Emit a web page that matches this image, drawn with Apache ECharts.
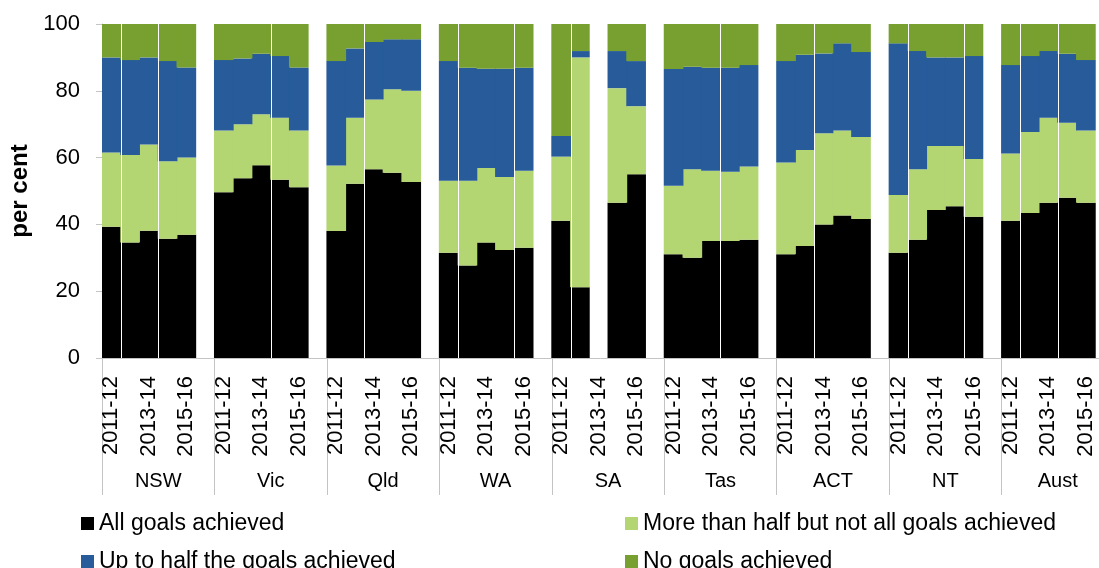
<!DOCTYPE html>
<html>
<head>
<meta charset="utf-8">
<title>Goals achieved</title>
<script src="https://cdn.jsdelivr.net/npm/echarts@6/dist/echarts.min.js"></script>
<style>
html, body { margin: 0; padding: 0; background: #fff; }
#chart { width: 1099px; height: 568px; }
</style>
</head>
<body>
<div id="chart"></div>
<script>
// regions and years, 5 years per region
var regions = ['NSW', 'Vic', 'Qld', 'WA', 'SA', 'Tas', 'ACT', 'NT', 'Aust'];
var years = ['2011-12', '2012-13', '2013-14', '2014-15', '2015-16'];
var shownYears = ['2011-12', '2013-14', '2015-16'];

// per cent, region by region (SA 2013-14 has no data)
var allGoals = [
    39.3, 34.6, 38.1, 35.7, 36.9,
    49.6, 53.8, 57.7, 53.4, 51.1,
    38.0, 52.2, 56.5, 55.5, 52.7,
    31.5, 27.7, 34.6, 32.3, 33.0,
    41.1, 21.2, null, 46.5, 55.0,
    31.1, 30.0, 35.0, 35.0, 35.4,
    31.1, 33.5, 40.0, 42.7, 41.6,
    31.5, 35.4, 44.3, 45.4, 42.3,
    41.1, 43.4, 46.5, 48.0, 46.5
];
var moreThanHalf = [
    22.2, 26.2, 25.8, 23.2, 23.1,
    18.5, 16.2, 15.3, 18.5, 17.0,
    19.6, 19.7, 20.9, 25.0, 27.3,
    21.6, 25.4, 22.3, 21.9, 23.1,
    19.2, 68.8, null, 34.3, 20.4,
    20.5, 26.5, 21.1, 20.8, 21.9,
    27.4, 28.8, 27.3, 25.4, 24.6,
    17.3, 21.1, 19.2, 18.1, 17.3,
    20.1, 24.3, 25.4, 22.4, 21.6
];
var upToHalf = [
    28.5, 28.4, 26.1, 30.0, 27.0,
    21.1, 19.7, 18.1, 18.5, 18.9,
    31.3, 20.8, 17.2, 14.9, 15.4,
    35.8, 33.8, 29.7, 32.4, 30.8,
    6.2, 1.9, null, 11.1, 13.5,
    34.9, 30.7, 30.8, 31.1, 30.4,
    30.4, 28.5, 23.9, 26.1, 25.4,
    45.4, 35.4, 26.5, 26.5, 30.8,
    26.5, 22.7, 20.0, 20.7, 21.1
];
var noGoals = [
    10.0, 10.8, 10.0, 11.1, 13.0,
    10.8, 10.3, 8.9, 9.6, 13.0,
    11.1, 7.3, 5.4, 4.6, 4.6,
    11.1, 13.1, 13.4, 13.4, 13.1,
    33.5, 8.1, null, 8.1, 11.1,
    13.5, 12.8, 13.1, 13.1, 12.3,
    11.1, 9.2, 8.8, 5.8, 8.4,
    5.8, 8.1, 10.0, 10.0, 9.6,
    12.3, 9.6, 8.1, 8.9, 10.8
];

// white dividers seen in the picture: [region, year] = left edge of that bar
var dividers = [[0, 1], [0, 3], [1, 3], [2, 2], [3, 1], [3, 4], [4, 1], [5, 3], [6, 2], [7, 1], [7, 4], [8, 1], [8, 3]];

var font = "'Liberation Sans', Arial, sans-serif";
var grey = '#c4c4c4';

// 5 year slots + 1 empty slot per region
var cats = [];
regions.forEach(function (r) {
    years.forEach(function (y) { cats.push(r + '|' + y); });
    cats.push(r + '|');
});
function spread(arr) {
    var out = [];
    for (var r = 0; r < regions.length; r++) {
        for (var y = 0; y < years.length; y++) out.push(arr[r * years.length + y]);
        out.push(null);
    }
    return out;
}

function barSeries(name, arr, color) {
    return {
        name: name,
        type: 'bar',
        stack: 'total',
        xAxisIndex: 0,
        barWidth: '105%',
        barCategoryGap: '0%',
        itemStyle: { color: color },
        data: spread(arr)
    };
}

var series = [
    barSeries('All goals achieved', allGoals, '#000000'),
    barSeries('More than half but not all goals achieved', moreThanHalf, '#b3d572'),
    barSeries('Up to half the goals achieved', upToHalf, '#275b9a'),
    barSeries('No goals achieved', noGoals, '#78a030'),
    {
        type: 'custom',
        xAxisIndex: 0,
        z: 5,
        silent: true,
        data: dividers.map(function (d) { return [d[0] * 6 + d[1], 100]; }),
        renderItem: function (params, api) {
            var top = api.coord([api.value(0), 100]);
            var bottom = api.coord([api.value(0), 0]);
            var half = api.size([1, 0])[0] / 2;
            var x = Math.round(top[0] - half) + 0.5;
            return {
                type: 'line',
                shape: { x1: x, y1: top[1], x2: x, y2: bottom[1] },
                style: { stroke: '#ffffff', lineWidth: 1 }
            };
        }
    }
];

function legendItem(name, left, top) {
    return {
        left: left, top: top, icon: 'rect',
        itemWidth: 13, itemHeight: 13,
        textStyle: { fontSize: 23, color: '#000', fontFamily: font },
        data: [name]
    };
}

var myChart = echarts.init(document.getElementById('chart'));
var option = {
    animation: false,
    textStyle: { fontFamily: font },
    grid: { left: 102, top: 24, width: 1012, height: 334, outerBoundsMode: 'none' },
    legend: [
        legendItem('All goals achieved', 76, 507),
        legendItem('Up to half the goals achieved', 76, 545),
        legendItem('More than half but not all goals achieved', 620, 507),
        legendItem('No goals achieved', 620, 545)
    ],
    xAxis: [{
        type: 'category',
        position: 'bottom',
        data: cats,
        axisLine: { lineStyle: { color: grey } },
        axisTick: { show: false },
        axisLabel: {
            interval: 0, rotate: 90, margin: 18, fontSize: 22, color: '#000', fontFamily: font,
            formatter: function (v) {
                var y = v.split('|')[1];
                return shownYears.indexOf(y) >= 0 ? y : '';
            }
        }
    }, {
        type: 'category',
        position: 'bottom',
        data: regions,
        axisLine: { show: false },
        axisTick: { show: true, interval: 0, length: 137, lineStyle: { color: grey } },
        axisLabel: { interval: 0, margin: 113, fontSize: 20, color: '#000', fontFamily: font }
    }],
    yAxis: {
        type: 'value',
        min: 0, max: 100, interval: 20,
        name: 'per cent',
        nameLocation: 'middle',
        nameGap: 68,
        nameTextStyle: { fontSize: 24, fontWeight: 'bold', color: '#000', fontFamily: font },
        axisLine: { show: true, lineStyle: { color: grey } },
        axisTick: { show: true, length: 6, lineStyle: { color: grey } },
        splitLine: { show: false },
        axisLabel: { fontSize: 22, margin: 22, color: '#000', fontFamily: font }
    },
    series: series
};
myChart.setOption(option);
</script>
</body>
</html>
